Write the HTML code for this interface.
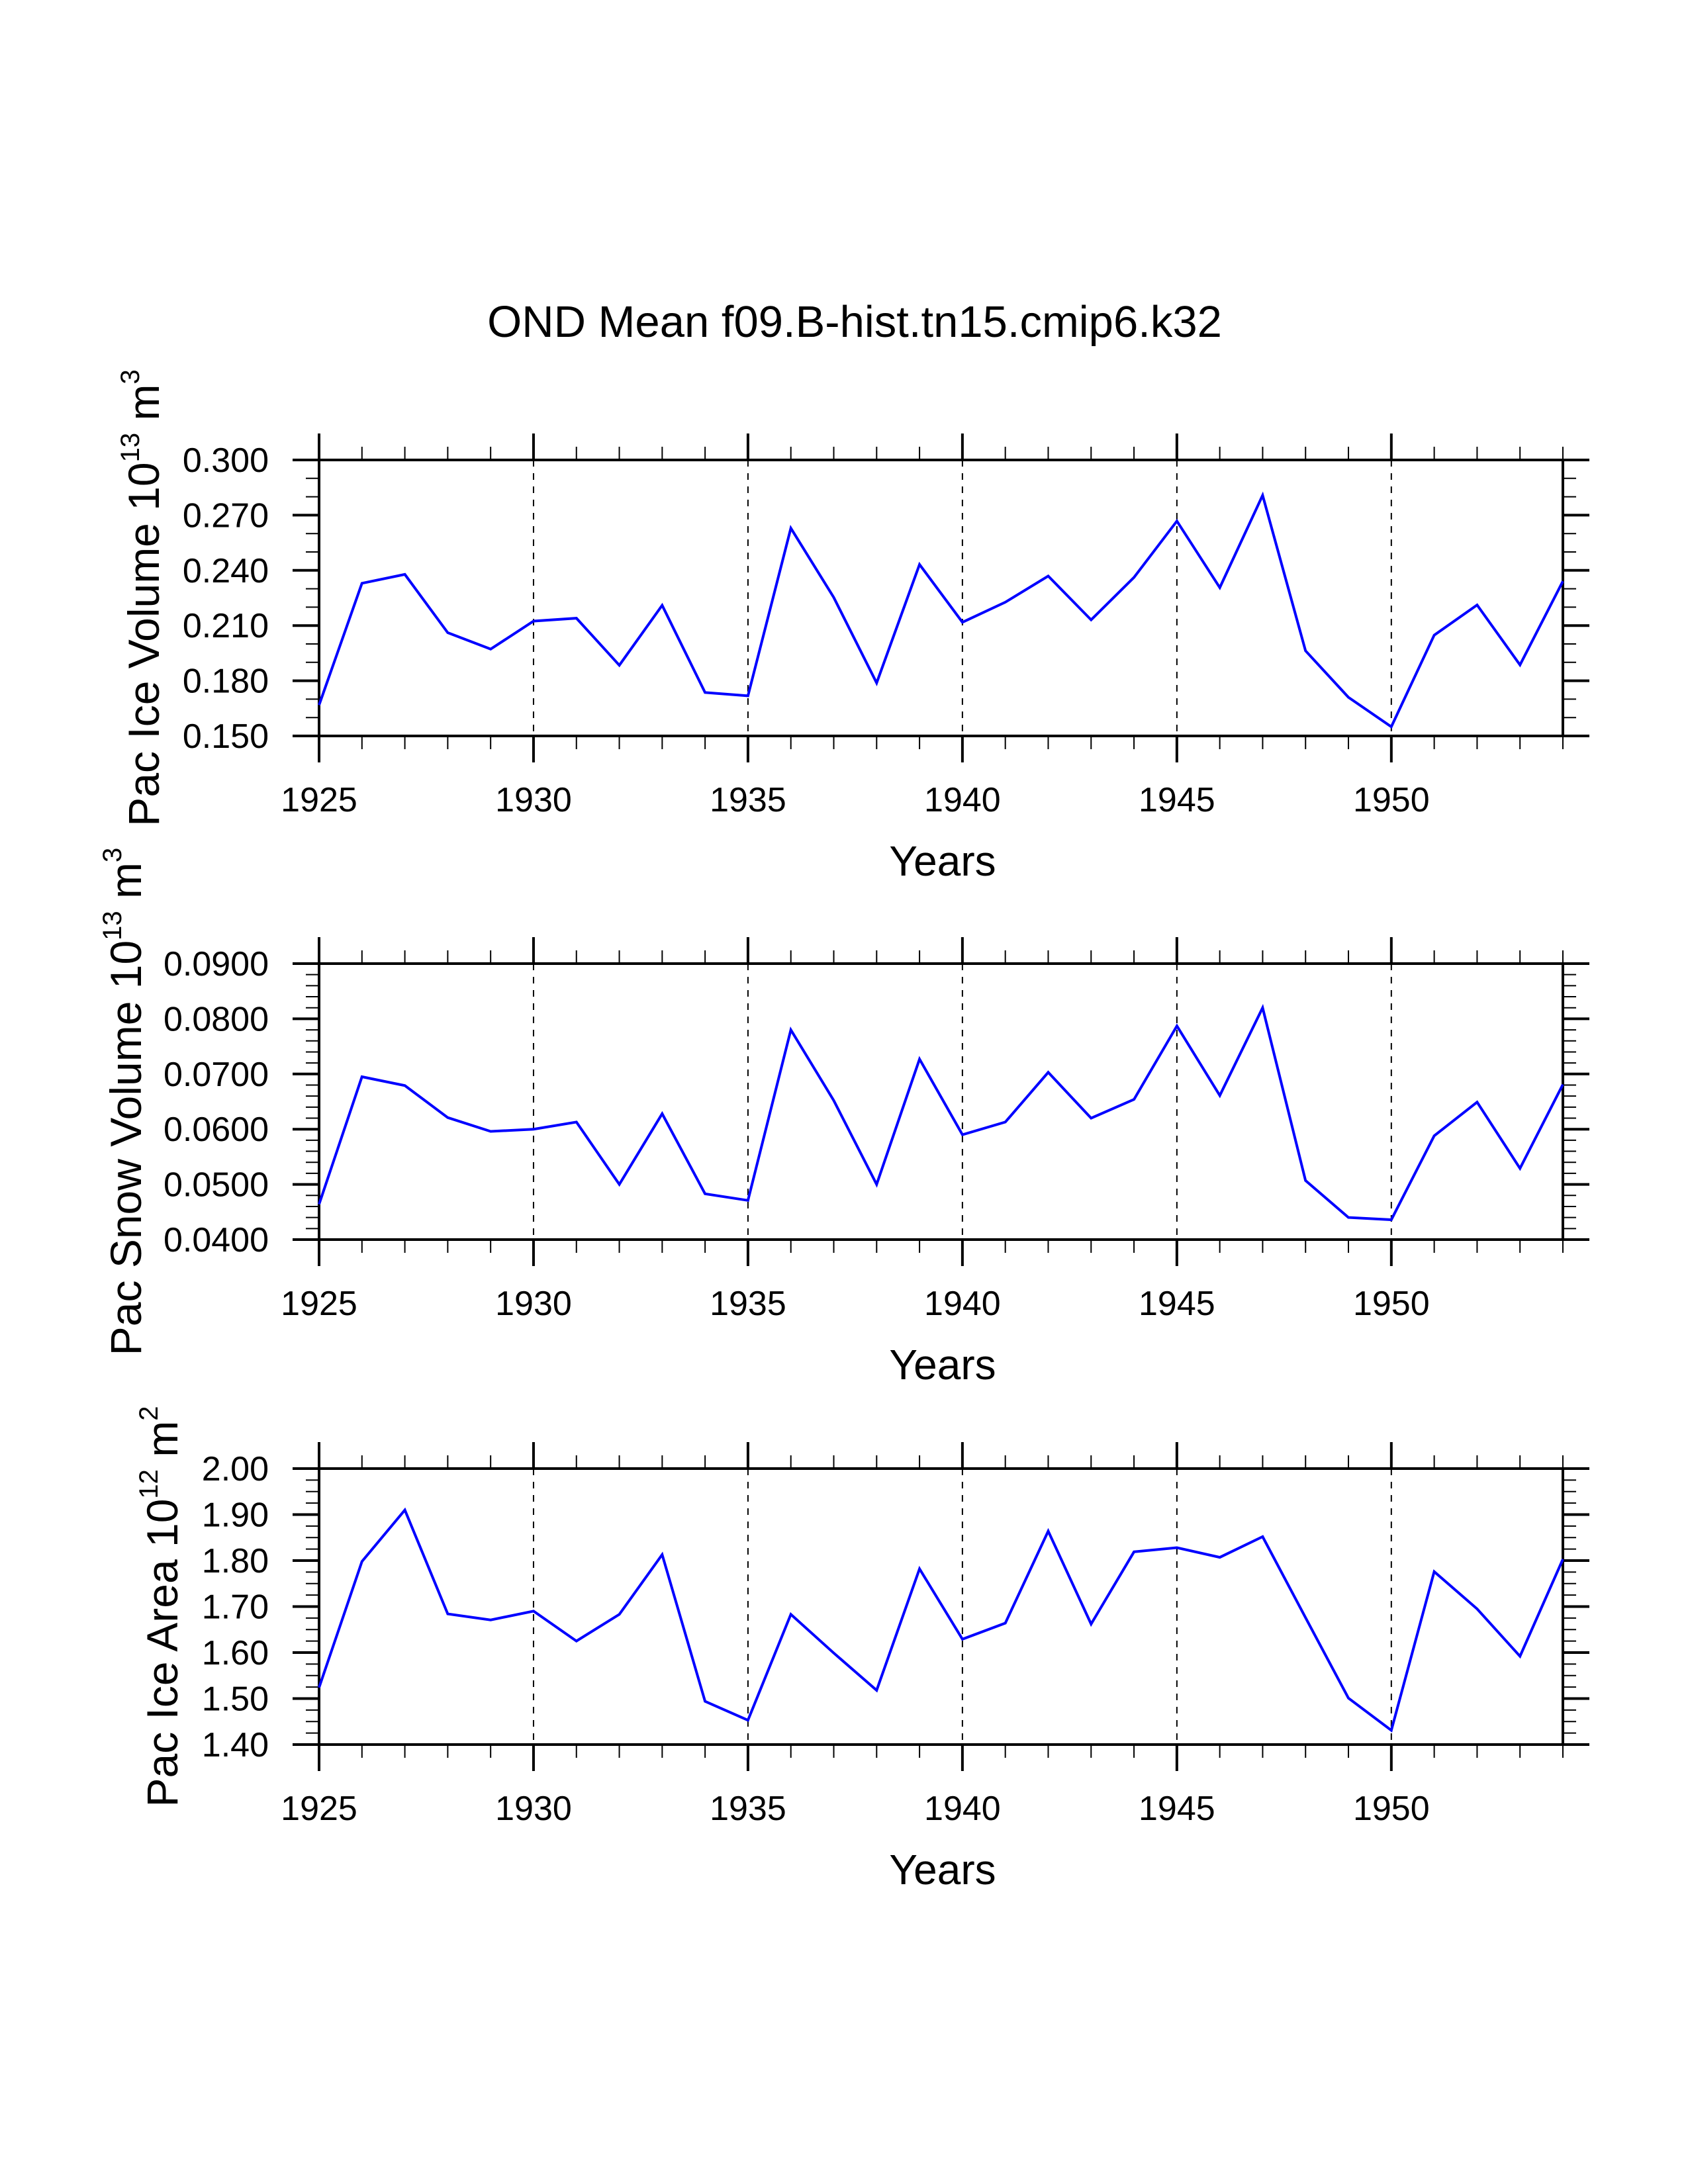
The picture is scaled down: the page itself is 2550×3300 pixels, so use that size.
<!DOCTYPE html>
<html><head><meta charset="utf-8"><style>
html,body{margin:0;padding:0;background:#fff;}
svg{display:block;font-family:"Liberation Sans",Arial,sans-serif;}
</style></head><body>
<svg id="chart" width="2550" height="3300" viewBox="0 0 2550 3300" xmlns="http://www.w3.org/2000/svg">
<rect width="2550" height="3300" fill="#fff"/>
<text x="1291" y="509" font-size="67" text-anchor="middle">OND Mean f09.B-hist.tn15.cmip6.k32</text>
</svg>
<script>
const years = [1925,1926,1927,1928,1929,1930,1931,1932,1933,1934,1935,1936,1937,1938,1939,1940,1941,1942,1943,1944,1945,1946,1947,1948,1949,1950,1951,1952,1953,1954];
const iceVolume = [0.1668,0.2330,0.2378,0.2061,0.1972,0.2124,0.2140,0.1884,0.2210,0.1736,0.1718,0.2629,0.2253,0.1788,0.2432,0.2118,0.2227,0.2369,0.2131,0.2362,0.2668,0.2306,0.2808,0.1963,0.1710,0.1550,0.2048,0.2212,0.1886,0.2341];
const snowVolume = [0.0464,0.0695,0.0679,0.0621,0.0596,0.0600,0.0613,0.0500,0.0628,0.0483,0.0471,0.0780,0.0652,0.0500,0.0727,0.0590,0.0613,0.0703,0.0620,0.0654,0.0787,0.0661,0.0820,0.0507,0.0440,0.0436,0.0588,0.0649,0.0529,0.0681];
const iceArea = [1.524,1.798,1.910,1.684,1.671,1.690,1.625,1.683,1.813,1.494,1.453,1.683,1.599,1.518,1.782,1.629,1.664,1.864,1.662,1.819,1.828,1.807,1.852,1.676,1.501,1.431,1.776,1.695,1.592,1.803];
const xTickYears = [1925,1930,1935,1940,1945,1950];
const iceVolumeTicks = ["0.150","0.180","0.210","0.240","0.270","0.300"];
const snowVolumeTicks = ["0.0400","0.0500","0.0600","0.0700","0.0800","0.0900"];
const iceAreaTicks = ["1.40","1.50","1.60","1.70","1.80","1.90","2.00"];

const NS='http://www.w3.org/2000/svg';
const svg=document.getElementById('chart');
function mk(tag,attrs,parent){const e=document.createElementNS(NS,tag);for(const k in attrs)e.setAttribute(k,attrs[k]);(parent||svg).appendChild(e);return e;}

const X0=482,X1=2361,XMIN=1925,XMAX=1954;
function xs(v){return X0+(v-XMIN)/(XMAX-XMIN)*(X1-X0);}

const panels=[
 {name:'ice-volume',data:iceVolume,ticks:iceVolumeTicks,minor:3,top:695,bot:1112,title:'Pac Ice Volume 10',sup:'13',unit:' m',usup:'3',tx:240},
 {name:'snow-volume',data:snowVolume,ticks:snowVolumeTicks,minor:5,top:1456,bot:1873,title:'Pac Snow Volume 10',sup:'13',unit:' m',usup:'3',tx:213},
 {name:'ice-area',data:iceArea,ticks:iceAreaTicks,minor:4,top:2219,bot:2636,title:'Pac Ice Area 10',sup:'12',unit:' m',usup:'2',tx:268}
];

panels.forEach(p=>{
  const g=mk('g',{});
  
  
  const vmin=parseFloat(p.ticks[0]),vmax=parseFloat(p.ticks[p.ticks.length-1]);
  const ys=v=>p.bot-(v-vmin)/(vmax-vmin)*(p.bot-p.top);
  // gridlines
  xTickYears.slice(1).forEach(yr=>{
    const l=mk('line',{x1:xs(yr),x2:xs(yr),y1:p.top,y2:p.bot,stroke:'#000','stroke-width':2,'stroke-dasharray':'10,10'},g);
    
    
  });
  // x ticks
  for(let yr=XMIN;yr<=XMAX;yr++){
    const major=(yr%5===0);
    const len=major?40:20, w=major?4:2;
    mk('line',{x1:xs(yr),x2:xs(yr),y1:p.bot,y2:p.bot+len,stroke:'#000','stroke-width':w},g);
    mk('line',{x1:xs(yr),x2:xs(yr),y1:p.top,y2:p.top-len,stroke:'#000','stroke-width':w},g);
  }
  // y ticks
  const n=p.ticks.length-1;
  for(let i=0;i<n*p.minor;i++){
    const v=vmin+(vmax-vmin)*i/(n*p.minor);
    if(i%p.minor===0) continue;
    mk('line',{x1:X0-20,x2:X0,y1:ys(v),y2:ys(v),stroke:'#000','stroke-width':2},g);
    mk('line',{x1:X1,x2:X1+20,y1:ys(v),y2:ys(v),stroke:'#000','stroke-width':2},g);
  }
  p.ticks.forEach(t=>{
    const v=parseFloat(t),y=ys(v);
    mk('line',{x1:X0-40,x2:X0,y1:y,y2:y,stroke:'#000','stroke-width':4},g);
    mk('line',{x1:X1,x2:X1+40,y1:y,y2:y,stroke:'#000','stroke-width':4},g);
    const tl=mk('text',{x:406,y:y+18,'font-size':52,'text-anchor':'end'},g);
    tl.textContent=t;
    
    
  });
  xTickYears.forEach(yr=>{
    const tl=mk('text',{x:xs(yr),y:p.bot+114,'font-size':52,'text-anchor':'middle'},g);
    tl.textContent=yr;
    
    
  });
  // frame
  const fr=mk('rect',{x:X0,y:p.top,width:X1-X0,height:p.bot-p.top,fill:'none',stroke:'#000','stroke-width':4},g);
  
  
  // series
  const pts=years.map((yr,i)=>xs(yr).toFixed(1)+','+ys(p.data[i]).toFixed(1)).join(' ');
  const pl=mk('polyline',{points:pts,fill:'none',stroke:'#0000ff','stroke-width':4,'stroke-linejoin':'miter'},g);
  
  
  // x title
  const xt=mk('text',{x:1424,y:p.bot+211,'font-size':64,'text-anchor':'middle'},g);
  xt.textContent='Years';
  
  
  // y title
  const cy=(p.top+p.bot)/2;
  const yt=mk('text',{x:p.tx,y:cy,'font-size':66,'text-anchor':'middle',transform:'rotate(-90 '+p.tx+' '+cy+')'},g);
  
  
  const a=mk('tspan',{},yt);a.textContent=p.title;
  const b=mk('tspan',{'font-size':40,dy:-30},yt);b.textContent=p.sup;
  const c=mk('tspan',{dy:30},yt);c.textContent=p.unit;
  const d=mk('tspan',{'font-size':40,dy:-30},yt);d.textContent=p.usup;
});
</script>
</body></html>
